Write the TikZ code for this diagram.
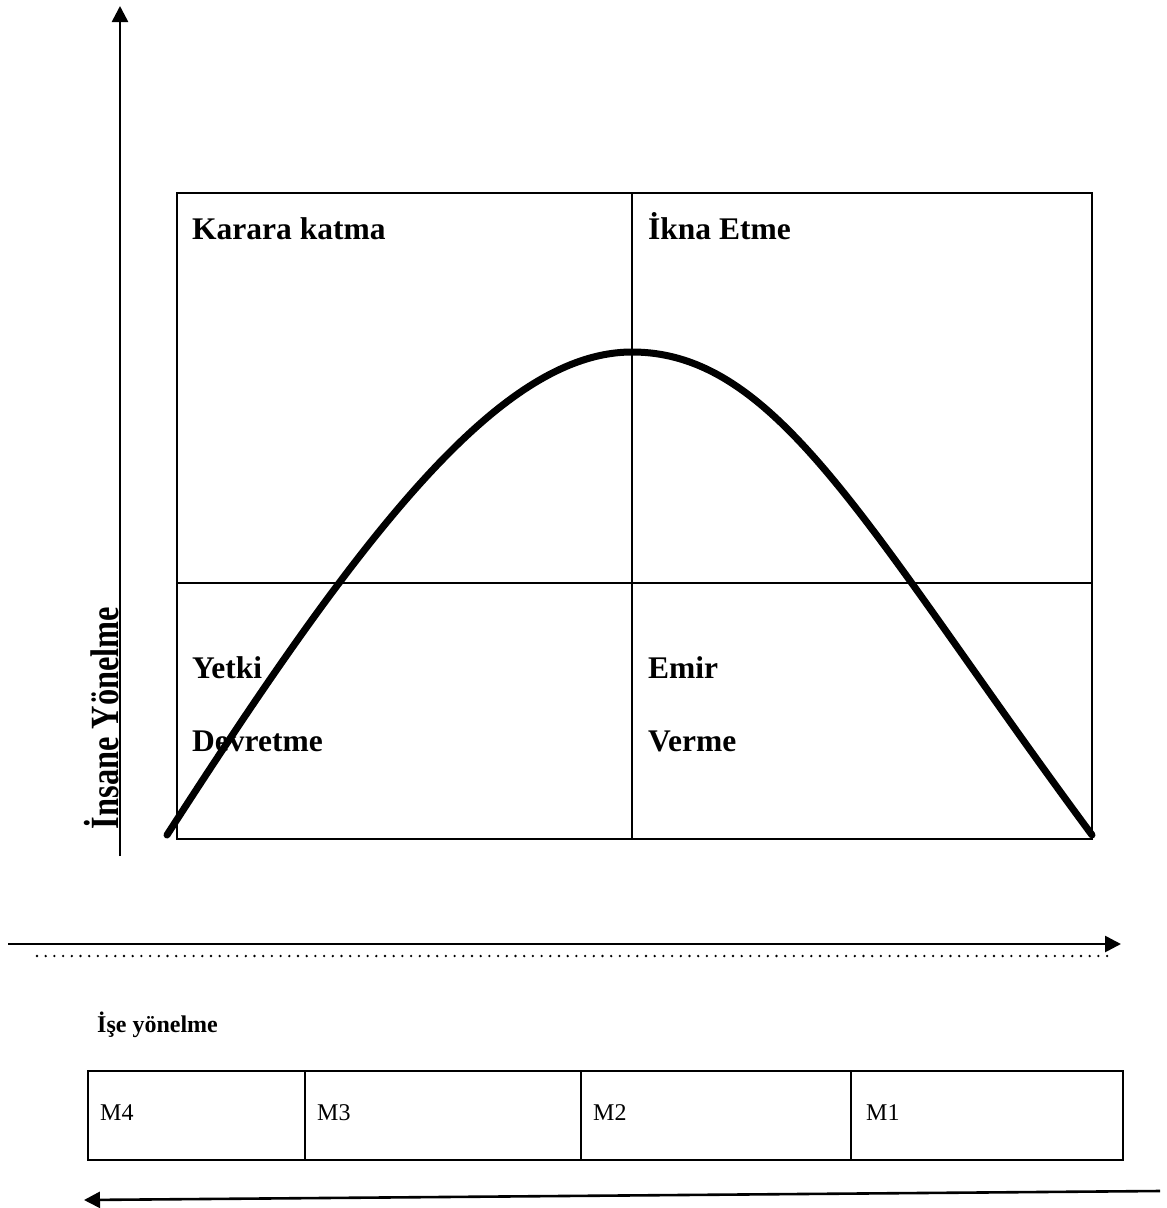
\documentclass[tikz,border=0pt]{standalone}
\usepackage{fontspec}
\setmainfont{Liberation Serif}
\usetikzlibrary{arrows.meta}
\begin{document}
\begin{tikzpicture}[x=1pt,y=-1pt,
  axis/.style={line width=2.6pt,-{Triangle[length=16pt,width=16pt]}},
  boxline/.style={line width=1.8pt},
  qlabel/.style={anchor=base west,inner sep=0pt,font=\fontsize{31.5}{33}\selectfont\bfseries},
  mlabel/.style={anchor=base west,inner sep=0pt,font=\fontsize{24}{26}\selectfont}]
\useasboundingbox (0,0) rectangle (1167,1208);
% vertical axis
\coordinate (yb) at (120,856);
\coordinate (yt) at (120,6);
\draw[axis] (yb) -- (yt);
\node[rotate=90,anchor=base,inner sep=0pt,font=\fontsize{40}{42}\selectfont\bfseries] (ylab) at (118.5,718) {\scalebox{0.81}[1]{İnsane Yönelme}};
% quadrant box
\coordinate (bl) at (177,839);
\coordinate (tr) at (1092,193);
\draw[boxline] (bl) rectangle (tr);
\coordinate (mt) at (632,193);
\coordinate (mb) at (632,839);
\coordinate (ml) at (177,583);
\coordinate (mr) at (1092,583);
\draw[boxline] (mt) -- (mb);
\draw[boxline] (ml) -- (mr);
\node[qlabel] (q1) at (192,239) {Karara katma};
\node[qlabel] (q2) at (648,239) {İkna Etme};
\node[qlabel] (q3) at (192,678) {Yetki};
\node[qlabel] (q3b) at (192,751) {Devretme};
\node[qlabel] (q4) at (648,678) {Emir};
\node[qlabel] (q4b) at (648,751) {Verme};
% curve
\coordinate (c0) at (167,835);
\coordinate (cp) at (632,352);
\coordinate (c1) at (1092,835);
\draw[line width=7pt,line cap=round] (c0) .. controls (360,535) and (500,352) .. (cp)
   .. controls (780,352) and (870,535) .. (c1);
% horizontal axis
\coordinate (xl) at (8,944);
\coordinate (xr) at (1121,944);
\draw[axis] (xl) -- (xr);
\coordinate (dl) at (37,956);
\coordinate (dr) at (1113,956);
\draw[line width=2.6pt,line cap=round,dash pattern=on 0pt off 8.7pt] (dl) -- (dr);
\node[anchor=base west,inner sep=0pt,font=\fontsize{24}{26}\selectfont\bfseries] (xlab) at (97,1032) {İşe yönelme};
% table
\coordinate (tl) at (88,1071);
\coordinate (br) at (1123,1160);
\draw[line width=2.4pt] (tl) rectangle (br);
\foreach \x/\n in {305/a,581/b,851/c}{
  \coordinate (t\n) at (\x,1071);
  \coordinate (b\n) at (\x,1160);
  \draw[line width=1.6pt] (t\n) -- (b\n);
}
\node[mlabel] (m4) at (100,1120) {M4};
\node[mlabel] (m3) at (317,1120) {M3};
\node[mlabel] (m2) at (593,1120) {M2};
\node[mlabel] (m1) at (866,1120) {M1};
% bottom arrow
\coordinate (ar) at (1160,1191);
\coordinate (al) at (84,1200);
\draw[axis] (ar) -- (al);
\end{tikzpicture}
\end{document}
